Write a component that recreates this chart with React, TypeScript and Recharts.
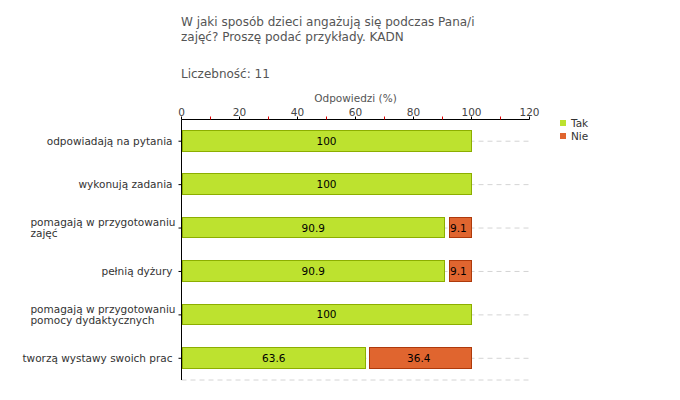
import {
  BarChart,
  Bar,
  XAxis,
  YAxis,
  CartesianGrid,
  LabelList,
} from "recharts";

const categories = [
  "odpowiadają na pytania",
  "wykonują zadania",
  "pomagają w przygotowaniu\nzajęć",
  "pełnią dyżury",
  "pomagają w przygotowaniu\npomocy dydaktycznych",
  "tworzą wystawy swoich prac",
];
const takValues = [100, 100, 90.9, 90.9, 100, 63.6];
const nieValues = [0, 0, 9.1, 9.1, 0, 36.4];
const axisTicks = [0, 10, 20, 30, 40, 50, 60, 70, 80, 90, 100, 110, 120];
const gridTicks = [20, 40, 60, 80, 100, 120];
const seriesNames = ["Tak", "Nie"];

const FONT = "'DejaVu Sans', Verdana, sans-serif";
const SMALL = 10.5;
const GREEN = "#bde22f";
const GREEN_STROKE = "#8cae00";
const ORANGE = "#e0652f";
const ORANGE_STROKE = "#ae3a0b";
const GRID = "#d4d4d4";

const W = 680;
const H = 400;
const MARGIN = { top: 99.5, right: 150.5, bottom: 20, left: 0.5 };
const X_AXIS_H = 20;
const PLOT_H = H - MARGIN.top - MARGIN.bottom - X_AXIS_H;

const chartData = categories.map((name, i) => ({
  name,
  tak: takValues[i],
  nie: nieValues[i],
}));

let measureCtx: CanvasRenderingContext2D | null = null;
function textWidth(s: string) {
  if (!measureCtx) measureCtx = document.createElement("canvas").getContext("2d");
  if (!measureCtx) return s.length * 6;
  measureCtx.font = `${SMALL}px ${FONT}`;
  return measureCtx.measureText(s).width;
}

function CategoryTick(props: any) {
  const { x, y, payload } = props;
  const lines = String(payload.value).split("\n");
  if (lines.length === 1) {
    return (
      <text x={x - 1} y={y} dy="0.35em" textAnchor="end" fontSize={SMALL} fontFamily={FONT} fill="#333">
        {lines[0]}
      </text>
    );
  }
  const w = Math.max(...lines.map(textWidth));
  const left = x + 2 - w;
  const lh = 11.5;
  const first = y + 3.5 - ((lines.length - 1) * lh) / 2;
  return (
    <text textAnchor="start" fontSize={SMALL} fontFamily={FONT} fill="#333">
      {lines.map((l, i) => (
        <tspan key={i} x={left} y={first + i * lh}>
          {l}
        </tspan>
      ))}
    </text>
  );
}

function ValueTick(props: any) {
  const { x, y, payload } = props;
  const major = payload.value % 20 === 0;
  return (
    <g>
      <line x1={x} x2={x} y1={y} y2={y + 3} stroke={major ? "#000" : "#e00000"} />
      {major && (
        <text x={x} y={y - 1} textAnchor="middle" fontSize={SMALL} fontFamily={FONT} fill="#444">
          {payload.value}
        </text>
      )}
    </g>
  );
}

// dashed vertical grid line running down the plot from the axis tick
function GridTick(props: any) {
  const { x, y } = props;
  return <line x1={x} x2={x} y1={y + 3} y2={y + 3 + PLOT_H} stroke={GRID} strokeDasharray="5 4" />;
}

// crisp 1px-bordered segment; later segments leave a small gap after the previous one
function segmentShape(inset: number, fill: string, stroke: string) {
  return (props: any) => {
    const { x, y, width, height } = props;
    if (!width || width <= inset + 1) return <g />;
    const left = Math.floor(x) + inset + 0.5;
    const right = Math.round(x + width) - 0.5;
    const top = Math.floor(y) + 0.5;
    const bottom = Math.round(y + height) - 0.5;
    return (
      <rect x={left} y={top} width={right - left} height={bottom - top} fill={fill} stroke={stroke} />
    );
  };
}

export default function App() {
  const colors = [GREEN, ORANGE];
  return (
    <div
      style={{
        position: "absolute",
        left: 0,
        top: 0,
        width: W,
        height: H,
        background: "#fff",
        fontFamily: FONT,
      }}
    >
      <div style={{ position: "absolute", left: 181, top: 15, fontSize: 12, lineHeight: "15px", color: "#555" }}>
        W jaki sposób dzieci angażują się podczas Pana/i
        <br />
        zajęć? Proszę podać przykłady. KADN
      </div>
      <div style={{ position: "absolute", left: 181, top: 67, fontSize: 12, color: "#555" }}>
        Liczebność: 11
      </div>
      <div
        style={{
          position: "absolute",
          left: 181,
          width: 349,
          top: 92,
          textAlign: "center",
          fontSize: SMALL,
          color: "#555",
        }}
      >
        Odpowiedzi (%)
      </div>
      <div style={{ position: "absolute", left: 560, top: 116, fontSize: SMALL, color: "#333" }}>
        {seriesNames.map((label, i) => (
          <div key={label} style={{ display: "flex", alignItems: "center", height: 13 }}>
            <span style={{ width: 6, height: 6, background: colors[i], marginRight: 5 }} />
            {label}
          </div>
        ))}
      </div>

      {/* underlay: vertical grid, same scales, sits beneath the bars */}
      <BarChart
        width={W}
        height={H}
        data={chartData}
        layout="vertical"
        margin={MARGIN}
        style={{ position: "absolute", left: 0, top: 0 }}
      >
        <XAxis
          type="number"
          orientation="top"
          domain={[0, 120]}
          ticks={gridTicks}
          interval={0}
          height={X_AXIS_H}
          tickSize={3}
          tickMargin={0}
          tickLine={false}
          axisLine={false}
          tick={<GridTick />}
        />
        <YAxis type="category" dataKey="name" width={181} tick={false} tickLine={false} axisLine={false} />
      </BarChart>

      <BarChart
        width={W}
        height={H}
        data={chartData}
        layout="vertical"
        barSize={21}
        margin={MARGIN}
        style={{ position: "absolute", left: 0, top: 0 }}
      >
        <CartesianGrid stroke={GRID} strokeDasharray="5 4" vertical={false} />
        <XAxis
          type="number"
          orientation="top"
          domain={[0, 120]}
          ticks={axisTicks}
          interval={0}
          height={X_AXIS_H}
          tickSize={3}
          tickMargin={0}
          tickLine={false}
          axisLine={{ stroke: "#000" }}
          tick={<ValueTick />}
        />
        <YAxis
          type="category"
          dataKey="name"
          width={181}
          tickSize={3}
          tickMargin={5}
          interval={0}
          axisLine={{ stroke: "#000" }}
          tickLine={{ stroke: "#000" }}
          tick={<CategoryTick />}
        />
        <Bar
          dataKey="tak"
          name={seriesNames[0]}
          stackId="a"
          fill={GREEN}
          isAnimationActive={false}
          shape={segmentShape(1, GREEN, GREEN_STROKE)}
        >
          <LabelList
            dataKey="tak"
            position="center"
            fontSize={SMALL}
            fontFamily={FONT}
            fill="#000"
            formatter={(v: any) => (v ? v : "")}
          />
        </Bar>
        <Bar
          dataKey="nie"
          name={seriesNames[1]}
          stackId="a"
          fill={ORANGE}
          isAnimationActive={false}
          shape={segmentShape(4, ORANGE, ORANGE_STROKE)}
        >
          <LabelList
            dataKey="nie"
            position="center"
            fontSize={SMALL}
            fontFamily={FONT}
            fill="#000"
            formatter={(v: any) => (v ? v : "")}
          />
        </Bar>
      </BarChart>
    </div>
  );
}
